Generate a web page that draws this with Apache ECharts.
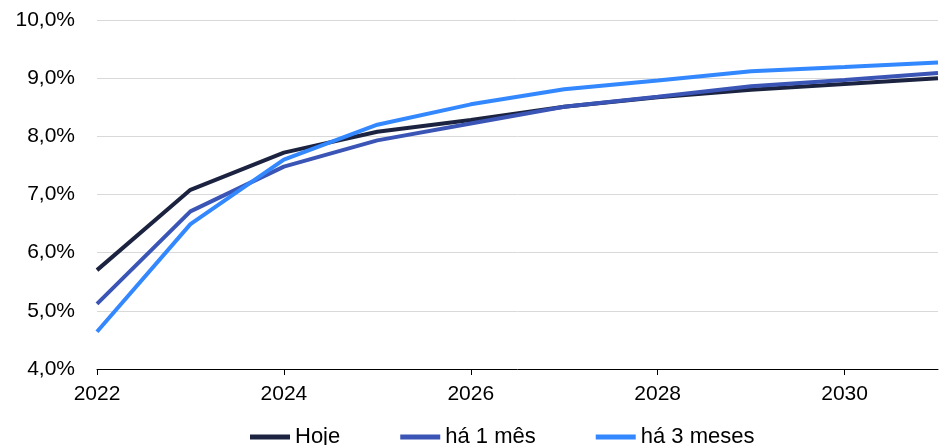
<!DOCTYPE html>
<html>
<head>
<meta charset="utf-8">
<script src="https://cdn.jsdelivr.net/npm/echarts@6/dist/echarts.min.js"></script>
<style>html,body{margin:0;padding:0;background:#fff}#c{width:947px;height:445px}</style>
</head>
<body>
<div id="c"></div>
<script>
const years = ['2022','2023','2024','2025','2026','2027','2028','2029','2030','2031'];
const hoje = [5.70, 7.08, 7.72, 8.08, 8.28, 8.51, 8.67, 8.80, 8.90, 9.00];
const ha1mes = [5.12, 6.71, 7.48, 7.93, 8.22, 8.51, 8.68, 8.86, 8.97, 9.09];
const ha3meses = [4.64, 6.49, 7.60, 8.20, 8.55, 8.81, 8.96, 9.12, 9.19, 9.27];
const seriesNames = ['Hoje', 'há 1 mês', 'há 3 meses'];
const colors = ['#1b2340', '#3a55b5', '#3388ff'];

const chart = echarts.init(document.getElementById('c'));
const font = 'Liberation Sans, Arial, sans-serif';
const mk = (name, data, color) => ({
  name, type: 'line', data, symbol: 'none', smooth: false,
  lineStyle: { width: 4, color }, itemStyle: { color }
});
chart.setOption({
  animation: false,
  textStyle: { fontFamily: font },
  grid: { left: 97, right: 9, top: 20, bottom: 76 },
  legend: {
    data: seriesNames, left: 245, top: 421,
    icon: 'rect', itemWidth: 40, itemHeight: 5, itemGap: 60,
    textStyle: { fontSize: 22, color: '#000', fontFamily: font }
  },
  xAxis: {
    type: 'category', data: years, boundaryGap: false,
    axisLine: { lineStyle: { color: '#000', width: 1 } },
    axisTick: { show: true, interval: 1, length: 6, lineStyle: { color: '#000' } },
    axisLabel: { interval: 1, fontSize: 21, color: '#000', margin: 15, fontFamily: font },
    splitLine: { show: false }
  },
  yAxis: {
    type: 'value', min: 4, max: 10, interval: 1,
    axisLine: { show: false }, axisTick: { show: false },
    axisLabel: { fontSize: 21, color: '#000', margin: 22, fontFamily: font,
      formatter: v => v.toFixed(1).replace('.', ',') + '%' },
    splitLine: { lineStyle: { color: '#d9d9d9', width: 1 } }
  },
  series: [
    mk(seriesNames[0], hoje, colors[0]),
    mk(seriesNames[1], ha1mes, colors[1]),
    mk(seriesNames[2], ha3meses, colors[2])
  ]
});
</script>
</body>
</html>
